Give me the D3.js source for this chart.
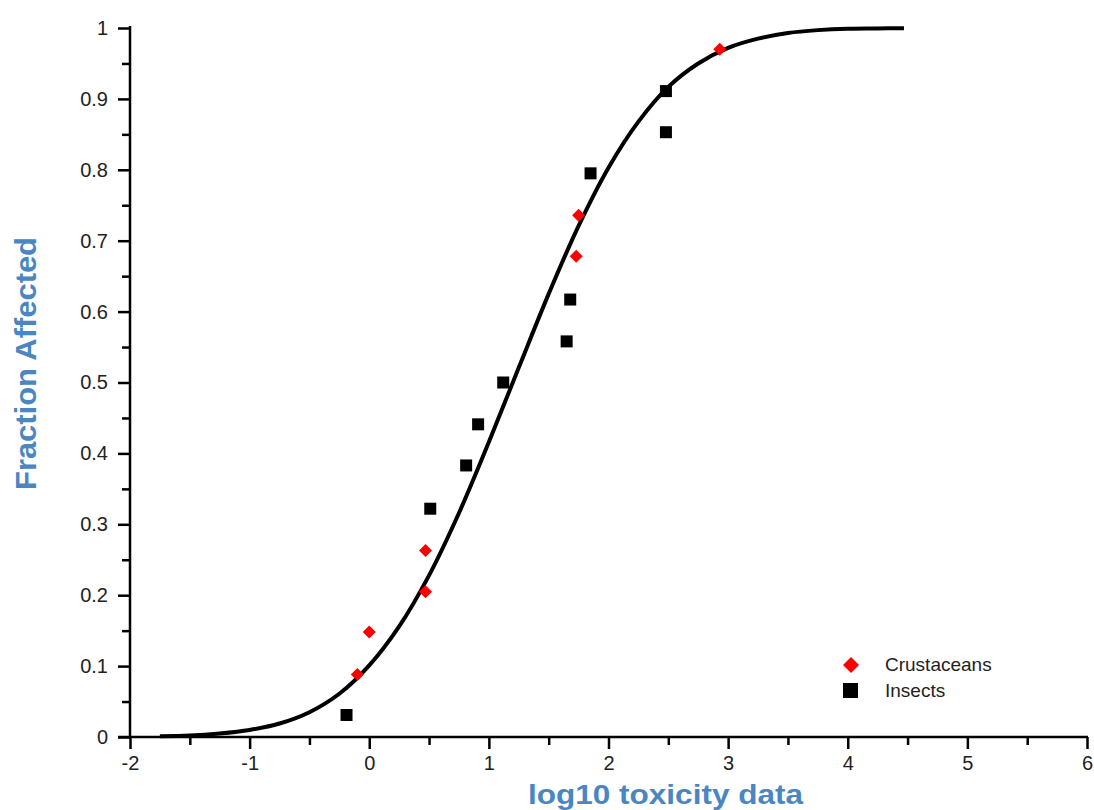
<!DOCTYPE html>
<html>
<head>
<meta charset="utf-8">
<script src="https://cdn.jsdelivr.net/npm/d3@7"></script>
<style>
  html, body { margin: 0; padding: 0; background: #fff; }
  svg { display: block; }
  text { font-family: "Liberation Sans", Arial, sans-serif; }
</style>
</head>
<body>
<svg id="chart" width="1094" height="810"></svg>
<script>
// ---- data ----
const crustX = [-0.10, 0.00, 0.47, 0.47, 1.73, 1.75, 2.93];
const crustY = [0.088, 0.148, 0.263, 0.205, 0.678, 0.736, 0.970];

const insectX = [-0.19, 0.51, 0.81, 0.91, 1.12, 1.65, 1.68, 1.85, 2.48, 2.48];
const insectY = [0.031, 0.322, 0.383, 0.441, 0.500, 0.558, 0.617, 0.795, 0.911, 0.853];

// fitted curve
const curveX = [-1.75, -1.5, -1.25, -1.0, -0.75, -0.5, -0.25, 0.0, 0.25, 0.5, 0.75, 1.0, 1.25, 1.5, 1.75, 2.0, 2.25, 2.5, 2.75, 3.0, 3.25, 3.5, 3.75, 4.0, 4.25, 4.47];
const curveY = [0.001, 0.002, 0.005, 0.010, 0.019, 0.035, 0.061, 0.101, 0.156, 0.228, 0.316, 0.416, 0.521, 0.625, 0.721, 0.803, 0.868, 0.917, 0.950, 0.972, 0.985, 0.993, 0.997, 0.999, 0.9994, 0.9998];

const xMajorTicks = [-2, -1, 0, 1, 2, 3, 4, 5, 6];
const xTickLabels = ["-2", "-1", "0", "1", "2", "3", "4", "5", "6"];
const xMinorTicks = [-1.5, -0.5, 0.5, 1.5, 2.5, 3.5, 4.5, 5.5];
const yMajorTicks = [0, 0.1, 0.2, 0.3, 0.4, 0.5, 0.6, 0.7, 0.8, 0.9, 1];
const yMinorTicks = [0.05, 0.15, 0.25, 0.35, 0.45, 0.55, 0.65, 0.75, 0.85, 0.95];
const yTickLabels = ["0", "0.1", "0.2", "0.3", "0.4", "0.5", "0.6", "0.7", "0.8", "0.9", "1"];

const seriesNames = ["Crustaceans", "Insects"];
const xTitle = "log10 toxicity data";
const yTitle = "Fraction Affected";

// ---- layout ----
const svg = d3.select("#chart");
const x = d3.scaleLinear().domain([-2, 6]).range([130, 1087]);
const y = d3.scaleLinear().domain([0, 1]).range([737, 28]);

const tickColor = "#222";
const axisW = 2.5;

// x axis major
const gxMaj = svg.append("g").attr("transform", `translate(0,${y(0)})`)
  .call(d3.axisBottom(x).tickValues(xMajorTicks).tickSize(12).tickSizeOuter(0).tickPadding(7)
    .tickFormat((d, i) => xTickLabels[i]));
const gxMin = svg.append("g").attr("transform", `translate(0,${y(0)})`)
  .call(d3.axisBottom(x).tickValues(xMinorTicks).tickSize(8).tickSizeOuter(0).tickFormat(""));
// y axis major
const gyMaj = svg.append("g").attr("transform", `translate(${x(-2)},0)`)
  .call(d3.axisLeft(y).tickValues(yMajorTicks).tickSize(12).tickSizeOuter(0).tickPadding(10)
    .tickFormat((d, i) => yTickLabels[i]));
const gyMin = svg.append("g").attr("transform", `translate(${x(-2)},0)`)
  .call(d3.axisLeft(y).tickValues(yMinorTicks).tickSize(8).tickSizeOuter(0).tickFormat(""));

[gxMaj, gxMin, gyMaj, gyMin].forEach(g => {
  g.select(".domain").remove();
  g.selectAll(".tick line").attr("stroke", "#000").attr("stroke-width", axisW);
  g.selectAll(".tick text").attr("fill", tickColor).style("font-size", "20px")
    .style("font-family", "'Liberation Sans', Arial, sans-serif");
});

// axis lines
svg.append("line").attr("x1", x(-2)).attr("x2", x(-2)).attr("y1", y(1) - 2).attr("y2", y(0) + 1)
  .attr("stroke", "#000").attr("stroke-width", axisW);
svg.append("line").attr("x1", x(-2) - 12).attr("x2", x(6) + 1).attr("y1", y(0)).attr("y2", y(0))
  .attr("stroke", "#000").attr("stroke-width", axisW);

// curve
const curveData = curveX.map((d, i) => [d, curveY[i]]);
svg.append("path").datum(curveData)
  .attr("fill", "none").attr("stroke", "#000").attr("stroke-width", 4)
  .attr("d", d3.line().x(d => x(d[0])).y(d => y(d[1])).curve(d3.curveCatmullRom));

// markers
const diamond = (cx, cy, r) => `M${cx},${cy - r}L${cx + r},${cy}L${cx},${cy + r}L${cx - r},${cy}Z`;

svg.append("g").selectAll("rect").data(insectX.map((d, i) => [d, insectY[i]])).join("rect")
  .attr("x", d => x(d[0]) - 6).attr("y", d => y(d[1]) - 6)
  .attr("width", 12).attr("height", 12).attr("fill", "#000");

svg.append("g").selectAll("path").data(crustX.map((d, i) => [d, crustY[i]])).join("path")
  .attr("d", d => diamond(x(d[0]), y(d[1]), 6.5)).attr("fill", "#ff0000");

// legend
const lg = svg.append("g");
lg.append("path").attr("d", diamond(851, 665, 8)).attr("fill", "#ff0000");
lg.append("rect").attr("x", 843).attr("y", 683).attr("width", 15).attr("height", 15).attr("fill", "#000");
lg.append("text").attr("x", 885).attr("y", 671).attr("fill", tickColor).style("font-size", "19px").text(seriesNames[0]);
lg.append("text").attr("x", 885).attr("y", 697).attr("fill", tickColor).style("font-size", "19px").text(seriesNames[1]);

// axis titles
const titleColor = "#4a86c2";
svg.append("text").attr("x", 528).attr("y", 804)
  .attr("fill", titleColor).style("font-size", "28px").style("font-weight", "bold")
  .attr("textLength", 275).attr("lengthAdjust", "spacingAndGlyphs")
  .text(xTitle);
svg.append("text").attr("transform", "translate(36,490) rotate(-90)")
  .attr("fill", titleColor).style("font-size", "29px").style("font-weight", "bold")
  .attr("textLength", 253).attr("lengthAdjust", "spacingAndGlyphs")
  .text(yTitle);
</script>
</body>
</html>
